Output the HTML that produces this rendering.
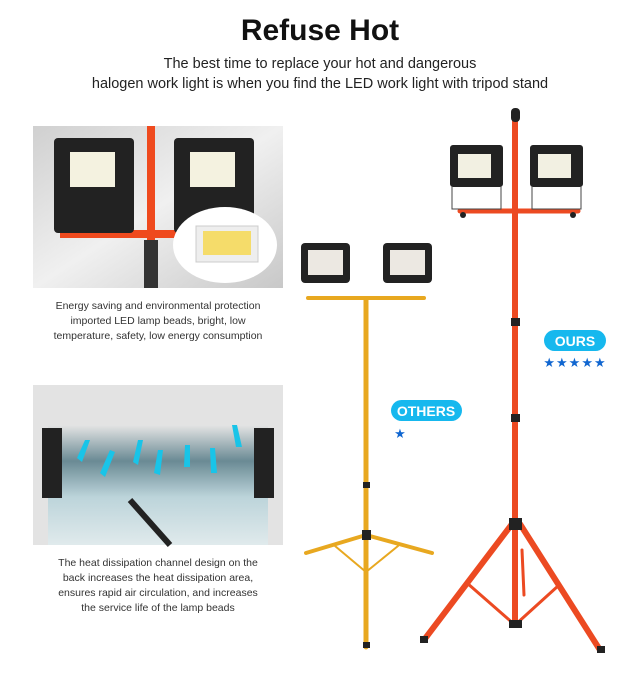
<!DOCTYPE html>
<html><head><style>
body{margin:0;width:640px;height:676px;background:#fff;font-family:"Liberation Sans",sans-serif;position:relative;overflow:hidden}
.t{position:absolute;left:0;width:640px;text-align:center;color:#222}
.cap{position:absolute;left:20px;width:276px;text-align:center;font-size:10.5px;line-height:15px;color:#333;white-space:nowrap}
</style></head><body>
<div class="t" style="top:14px;font-size:30px;font-weight:bold;color:#111">Refuse Hot</div>
<div class="t" style="top:54px;font-size:14.5px;line-height:20px">The best time to replace your hot and dangerous<br>halogen work light is when you find the LED work light with tripod stand</div>
<svg width="640" height="676" style="position:absolute;left:0;top:0">
<defs>
<linearGradient id="g1" x1="0" y1="0" x2="1" y2="1"><stop offset="0" stop-color="#d0d0d0"/><stop offset=".5" stop-color="#f0f0f0"/><stop offset="1" stop-color="#c8c8c8"/></linearGradient>
<linearGradient id="g2" x1="0" y1="0" x2="0" y2="1"><stop offset="0" stop-color="#e4e4e4"/><stop offset=".3" stop-color="#6a8a94"/><stop offset=".6" stop-color="#bcd4da"/><stop offset="1" stop-color="#e0eaec"/></linearGradient>
</defs>
<rect x="33" y="126" width="250" height="162" fill="url(#g1)"/>
<rect x="147" y="126" width="8" height="162" fill="#ef4a1e"/>
<rect x="60" y="230" width="150" height="8" fill="#ef4a1e"/>
<rect x="144" y="240" width="14" height="48" fill="#333"/>
<rect x="54" y="138" width="80" height="95" rx="4" fill="#222"/>
<rect x="70" y="152" width="45" height="35" fill="#f4f2e0"/>
<rect x="174" y="138" width="80" height="95" rx="4" fill="#222"/>
<rect x="190" y="152" width="45" height="35" fill="#f4f2e0"/>
<ellipse cx="225" cy="245" rx="52" ry="38" fill="#fff"/>
<rect x="196" y="226" width="62" height="36" fill="#eee" stroke="#ccc"/>
<rect x="203" y="231" width="48" height="24" fill="#f5dc6a"/>
<rect x="33" y="385" width="250" height="160" fill="#e3e3e3"/>
<rect x="48" y="425" width="220" height="120" fill="url(#g2)"/>
<rect x="42" y="428" width="20" height="70" fill="#222"/>
<rect x="254" y="428" width="20" height="70" fill="#222"/>
<path d="M130 500 L170 545" stroke="#222" stroke-width="6"/>
<g fill="#19c4e8"><path d="M85 440l5 0-8 22-5-4z"/><path d="M110 450l5 2-10 25-5-4z"/><path d="M138 440l5 0-5 25-5-3z"/><path d="M158 450l5 0-3 25-6-2z"/><path d="M185 445l5 0 0 22-6 0z"/><path d="M210 448l5 0 2 25-6 0z"/><path d="M232 425l5 0 5 22-6 0z"/></g>
<g stroke="#e8a820" stroke-linecap="round">
<line x1="366" y1="300" x2="366" y2="647" stroke-width="5"/>
<line x1="308" y1="298" x2="424" y2="298" stroke-width="4"/>
<line x1="366" y1="535" x2="306" y2="553" stroke-width="4"/>
<line x1="366" y1="535" x2="432" y2="553" stroke-width="4"/>
<line x1="335" y1="546" x2="366" y2="572" stroke-width="2"/>
<line x1="398" y1="546" x2="366" y2="572" stroke-width="2"/>
</g>
<g fill="#222"><rect x="363" y="482" width="7" height="6"/><rect x="362" y="530" width="9" height="10"/><rect x="363" y="642" width="7" height="6"/></g>
<rect x="301" y="243" width="49" height="40" rx="4" fill="#222"/><rect x="308" y="250" width="35" height="25" fill="#ece8e2"/>
<rect x="383" y="243" width="49" height="40" rx="4" fill="#222"/><rect x="390" y="250" width="35" height="25" fill="#ece8e2"/>
<g stroke="#ec4a22" stroke-linecap="round">
<line x1="515" y1="120" x2="515" y2="625" stroke-width="6"/>
<line x1="460" y1="211" x2="578" y2="211" stroke-width="5"/>
<line x1="512" y1="524" x2="424" y2="640" stroke-width="6"/>
<line x1="520" y1="524" x2="600" y2="650" stroke-width="6"/>
<line x1="467" y1="583" x2="515" y2="625" stroke-width="3"/>
<line x1="558" y1="586" x2="515" y2="625" stroke-width="3"/>
<line x1="522" y1="550" x2="524" y2="595" stroke-width="3"/>
</g>
<g fill="#222"><rect x="511" y="108" width="9" height="14" rx="4"/><rect x="511" y="318" width="9" height="8"/><rect x="511" y="414" width="9" height="8"/><rect x="509" y="518" width="13" height="12"/><rect x="509" y="620" width="13" height="8"/><rect x="420" y="636" width="8" height="7"/><rect x="597" y="646" width="8" height="7"/><circle cx="463" cy="215" r="3"/><circle cx="573" cy="215" r="3"/></g>
<rect x="450" y="145" width="53" height="42" rx="3" fill="#222"/><rect x="458" y="154" width="33" height="24" fill="#f2f0e2"/>
<rect x="530" y="145" width="53" height="42" rx="3" fill="#222"/><rect x="538" y="154" width="33" height="24" fill="#f2f0e2"/>
<path d="M452 187v22h49v-22M532 187v22h49v-22" fill="none" stroke="#444"/>
<rect x="544" y="330" width="62" height="21" rx="10.5" fill="#16b8ee"/>
<text x="575" y="346" font-size="14" font-weight="bold" fill="#fff" text-anchor="middle" font-family="Liberation Sans">OURS</text>
<text x="575" y="367" font-size="13" fill="#1066d0" text-anchor="middle" letter-spacing="1">★★★★★</text>
<rect x="391" y="400" width="71" height="21" rx="10.5" fill="#16b8ee"/>
<text x="426" y="416" font-size="14" font-weight="bold" fill="#fff" text-anchor="middle" font-family="Liberation Sans">OTHERS</text>
<text x="400" y="438" font-size="13" fill="#1066d0" text-anchor="middle">★</text>
</svg>
<div class="cap" style="top:299px">Energy saving and environmental protection<br>imported LED lamp beads, bright, low<br>temperature, safety, low energy consumption</div>
<div class="cap" style="top:556px">The heat dissipation channel design on the<br>back increases the heat dissipation area,<br>ensures rapid air circulation, and increases<br>the service life of the lamp beads</div>
</body></html>
